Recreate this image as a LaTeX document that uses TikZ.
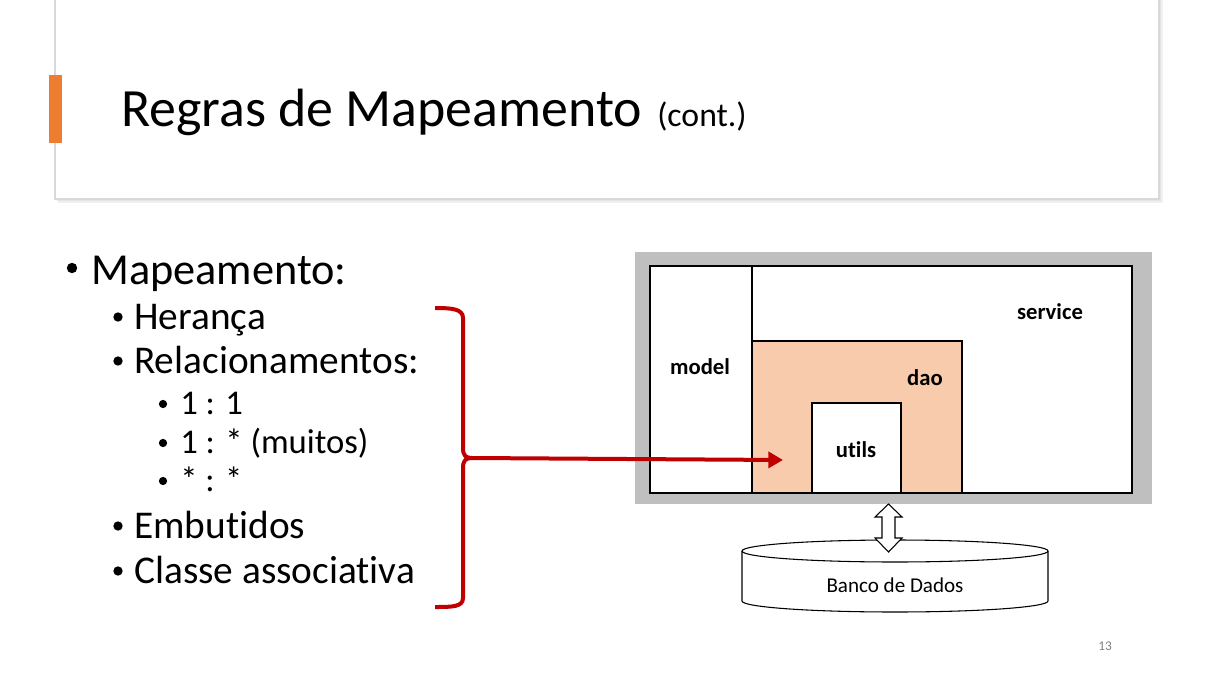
\documentclass[tikz,border=0pt]{standalone}
\usepackage{fontspec}
\setmainfont{Carlito}[Ligatures=NoCommon]
\usetikzlibrary{arrows.meta}
\definecolor{accent}{HTML}{ED7D31}
\definecolor{darkred}{HTML}{C00000}
\definecolor{frame}{HTML}{BFBFBF}
\definecolor{daofill}{HTML}{F8CBAD}
\tikzset{
  fsz/.style={font=\fontsize{#1}{#1}\selectfont},
  txt/.style={anchor=base west, inner sep=0pt},
  lvA/.style={fsz=33.2},
  lvB/.style={fsz=29.5},
  lvC/.style={fsz=26},
  lbl/.style={anchor=base, inner sep=0pt, font=\fontsize{17}{17}\selectfont\bfseries},
  box/.style={draw=black, line width=0.9pt},
}
\begin{document}
\begin{tikzpicture}[x=0.75pt,y=-0.75pt]
\useasboundingbox (0,0) rectangle (1205,677);
\fill[white] (0,0) rectangle (1205,677);
% title card with shadow
\fill[black!6] (58,-2) rectangle (1163,203);
\fill[black!10] (57,-2) rectangle (1161,201);
\filldraw[fill=white, draw=black!15, line width=0.8pt] (55,-2) rectangle (1159,199);
\fill[accent] (49,75) rectangle (62,143);
\node[txt, fsz=40.4] (title) at (121,127) {Regras de Mapeamento};
\node[txt, fsz=25.3] (cont) at (657,127) {(cont.)};
% bullets
\fill (72,268) circle[radius=3.9pt];
\node[txt, lvA] (t1) at (91,284) {Mapeamento:};
\fill (118,317) circle[radius=3.5pt];
\node[txt, lvB] (t2) at (134,329) {Herança};
\fill (118,361) circle[radius=3.5pt];
\node[txt, lvB] (t3) at (134,373) {Relacionamentos:};
\fill (163,404) circle[radius=3.1pt];
\node[txt, lvC] (t4) at (180,414) {1 : 1};
\fill (163,443) circle[radius=3.1pt];
\node[txt, lvC] (t5) at (180,453) {1 : * (muitos)};
\fill (163,481) circle[radius=3.1pt];
\node[txt, lvC] (t6) at (180,491) {* : *};
\fill (118,526) circle[radius=3.5pt];
\node[txt, lvB] (t7) at (134,538) {Embutidos};
\fill (118,571) circle[radius=3.5pt];
\node[txt, lvB] (t8) at (134,583) {Classe associativa};
% brace
\coordinate (bracetip) at (472,458);
\draw[darkred, line width=3pt, line join=round]
  (435,308) .. controls (452,308) and (463,309) .. (463,318)
  -- (463,448) .. controls (463,456) and (466,458) .. (bracetip)
  .. controls (466,458) and (463,460) .. (463,468)
  -- (463,598) .. controls (463,607) and (452,607) .. (435,607);
% layered architecture
\fill[frame] (635,252) rectangle (1152,504);
\fill[white] (650,266) rectangle (1132,493);
\filldraw[fill=daofill, box] (752,341) rectangle (962,493);
\filldraw[fill=white, box] (812,403) rectangle (901,493);
\draw[box] (650,266) rectangle (1132,493);
\draw[box] (752,266) -- (752,493);
\node[lbl] (service) at (1050,319) {service};
\node[lbl] (model) at (700,374) {model};
\node[lbl] (dao) at (925,385) {dao};
\node[lbl] (utils) at (856,457) {utils};
\coordinate (arrowend) at (783,460);
\draw[darkred, line width=3pt, -{Triangle[length=11pt,width=12pt]}] (bracetip) -- (arrowend);
% database cylinder
\filldraw[fill=white, draw=black, line width=0.8pt]
  (742,551) -- (742,601) arc[start angle=180, end angle=0, x radius=153, y radius=11]
  -- (1048,551) arc[start angle=0, end angle=-180, x radius=153, y radius=11] -- cycle;
\draw[black, line width=0.8pt] (742,551) arc[start angle=180, end angle=0, x radius=153, y radius=11];
\node[anchor=base, inner sep=0pt, fsz=15.8] (db) at (895,592) {Banco de Dados};
% double arrow
\filldraw[fill=white, draw=black, line width=0.8pt]
  (888.5,504) -- (902,517) -- (895,517) -- (895,538) -- (902,538) -- (888.5,552)
  -- (875,538) -- (882,538) -- (882,517) -- (875,517) -- cycle;
\node[anchor=base, inner sep=0pt, fsz=10, text=black!50] (pnum) at (1105,650) {13};
\end{tikzpicture}
\end{document}
